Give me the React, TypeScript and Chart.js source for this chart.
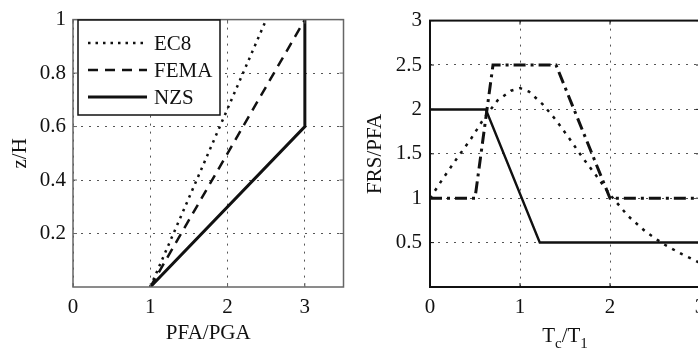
import React, { useEffect, useRef } from 'react';
import { Chart, registerables } from 'chart.js';
Chart.register(...registerables);

const FONT = "'Liberation Serif', 'Times New Roman', serif";
const INK = '#111';
Chart.defaults.font.family = FONT;
Chart.defaults.color = INK;

// ---- Left panel: PFA/PGA vs z/H ----
const ec8PfaX = [1, 2.5];
const ec8PfaZ = [0, 1];
const femaPfaX = [1, 3];
const femaPfaZ = [0, 1];
const nzsPfaX = [1, 3, 3];
const nzsPfaZ = [0, 0.6, 1];
const leftXTicks = [0, 1, 2, 3];
const leftYTicks = [0.2, 0.4, 0.6, 0.8, 1];
const leftLabels = ['EC8', 'FEMA', 'NZS'];

// ---- Right panel: Tc/T1 vs FRS/PFA ----
const nzsFrsT = [0, 0.62, 1.22, 3];
const nzsFrsY = [2, 2, 0.5, 0.5];
const femaFrsT = [0, 0.5, 0.7, 1.4, 2, 3];
const femaFrsY = [1, 1, 2.5, 2.5, 1, 1];
const ec8FrsT = [0, 0.15, 0.3, 0.45, 0.6, 0.75, 0.9, 1.0, 1.1, 1.25, 1.4, 1.55, 1.7, 1.85, 2.0, 2.2, 2.4, 2.6, 2.8, 3.0];
const ec8FrsY = [1, 1.23, 1.45, 1.66, 1.9, 2.1, 2.21, 2.24, 2.2, 2.06, 1.88, 1.67, 1.45, 1.25, 1.04, 0.8, 0.62, 0.48, 0.37, 0.27];
const rightXTicks = [0, 1, 2, 3];
const rightYTicks = [0.5, 1, 1.5, 2, 2.5, 3];

const pts = (xs: number[], ys: number[]) => xs.map((x, i) => ({ x, y: ys[i] }));
const fmt = (v: number) => String(Math.round(v * 10) / 10);

const framePlugin = {
  id: 'frame',
  afterDatasetsDraw(chart: any, _args: any, opts: any) {
    const { ctx, chartArea: a } = chart;
    const xs = chart.scales.x;
    const ys = chart.scales.y;
    ctx.save();
    ctx.strokeStyle = opts.color;
    ctx.lineWidth = opts.width;
    ctx.setLineDash([]);
    ctx.strokeRect(a.left, a.top, a.right - a.left, a.bottom - a.top);
    ctx.lineWidth = 1;
    ctx.beginPath();
    xs.ticks.forEach((t: any) => {
      const p = xs.getPixelForValue(t.value);
      ctx.moveTo(p, a.bottom); ctx.lineTo(p, a.bottom - 4);
      ctx.moveTo(p, a.top); ctx.lineTo(p, a.top + 4);
    });
    ys.ticks.forEach((t: any) => {
      const p = ys.getPixelForValue(t.value);
      ctx.moveTo(a.left, p); ctx.lineTo(a.left + 4, p);
      ctx.moveTo(a.right, p); ctx.lineTo(a.right - 4, p);
    });
    ctx.stroke();

    // axis titles
    ctx.fillStyle = INK;
    ctx.textBaseline = 'alphabetic';
    const big = `21px ${FONT}`;
    const small = `15px ${FONT}`;
    const segs: any[] = opts.xTitle;
    let total = 0;
    segs.forEach((s) => { ctx.font = s.sub ? small : big; total += ctx.measureText(s.text).width; });
    let cx = (a.left + a.right) / 2 - total / 2;
    segs.forEach((s) => {
      ctx.font = s.sub ? small : big;
      ctx.textAlign = 'left';
      ctx.fillText(s.text, cx, opts.xTitleY + (s.sub ? 6 : 0));
      cx += ctx.measureText(s.text).width;
    });
    ctx.save();
    ctx.translate(opts.yTitleX, (a.top + a.bottom) / 2);
    ctx.rotate(-Math.PI / 2);
    ctx.font = big;
    ctx.textAlign = 'center';
    ctx.textBaseline = 'middle';
    ctx.fillText(opts.yTitle, 0, 0);
    ctx.restore();
    ctx.restore();
  },
};

const legendPlugin = {
  id: 'boxLegend',
  afterDatasetsDraw(chart: any, _args: any, opts: any) {
    if (!opts || !opts.show) return;
    const { ctx } = chart;
    ctx.save();
    ctx.fillStyle = '#fff';
    ctx.fillRect(opts.x, opts.y, opts.w, opts.h);
    ctx.strokeStyle = INK;
    ctx.lineWidth = 1.5;
    ctx.setLineDash([]);
    ctx.strokeRect(opts.x, opts.y, opts.w, opts.h);
    chart.data.datasets.forEach((ds: any, i: number) => {
      const y = opts.y + 23 + i * 27;
      ctx.beginPath();
      ctx.strokeStyle = ds.borderColor;
      ctx.lineWidth = ds.borderWidth;
      ctx.setLineDash(ds.borderDash || []);
      ctx.moveTo(opts.x + 10, y);
      ctx.lineTo(opts.x + 69, y);
      ctx.stroke();
      ctx.setLineDash([]);
      ctx.fillStyle = INK;
      ctx.font = `21px ${FONT}`;
      ctx.textAlign = 'left';
      ctx.textBaseline = 'middle';
      ctx.fillText(ds.label, opts.x + 76, y + 1);
    });
    ctx.restore();
  },
};

function makeScale(min: number, max: number, ticks: number[], isX: boolean, size: number, pad: number) {
  return {
    type: 'linear',
    min,
    max,
    afterBuildTicks: (s: any) => { s.ticks = ticks.map((v) => ({ value: v })); },
    afterFit: (s: any) => { if (isX) s.height = size; else s.width = size; },
    ticks: {
      color: INK,
      font: { family: FONT, size: 21, weight: 'normal' },
      padding: pad,
      callback: (v: any) => fmt(Number(v)),
      maxRotation: 0,
      autoSkip: false,
    },
    grid: { color: '#555', lineWidth: 1, drawTicks: false },
    border: { display: false, dash: [2, 6] },
  };
}

function PanelChart(props: { cfg: any; width: number; left: number }) {
  const ref = useRef<HTMLCanvasElement>(null);
  useEffect(() => {
    const c = new Chart(ref.current as HTMLCanvasElement, props.cfg);
    return () => c.destroy();
  }, []);
  return (
    <canvas
      ref={ref}
      width={props.width}
      height={349}
      style={{ position: 'absolute', left: props.left, top: 0, width: props.width, height: 349 }}
    />
  );
}

const line = (label: string, data: any[], dash: number[], width: number) => ({
  label,
  data,
  showLine: true,
  borderColor: INK,
  backgroundColor: INK,
  borderWidth: width,
  borderDash: dash,
  pointRadius: 0,
  fill: false,
  tension: 0,
});

export default function App() {
  const leftCfg = {
    type: 'scatter',
    data: {
      datasets: [
        line(leftLabels[0], pts(ec8PfaX, ec8PfaZ), [2.5, 5], 2.5),
        line(leftLabels[1], pts(femaPfaX, femaPfaZ), [10, 7], 2.5),
        line(leftLabels[2], pts(nzsPfaX, nzsPfaZ), [], 3),
      ],
    },
    options: {
      responsive: false,
      animation: false,
      devicePixelRatio: 1,
      layout: { padding: { top: 15, right: 5.5, left: 0, bottom: 0 } },
      scales: {
        x: makeScale(0, 3.5, leftXTicks, true, 62, 8),
        y: makeScale(0, 1, leftYTicks, false, 73, 7),
      },
      plugins: {
        legend: { display: false },
        tooltip: { enabled: false },
        frame: { color: '#666', width: 1.5, xTitle: [{ text: 'PFA/PGA' }], xTitleY: 339, yTitle: 'z/H', yTitleX: 20 },
        boxLegend: { show: true, x: 78, y: 20, w: 142, h: 95 },
      },
    },
    plugins: [framePlugin, legendPlugin],
  };

  const rightCfg = {
    type: 'scatter',
    data: {
      datasets: [
        line('EC8', pts(ec8FrsT, ec8FrsY), [3, 6], 2.5),
        line('FEMA', pts(femaFrsT, femaFrsY), [12, 5, 3, 5], 3),
        line('NZS', pts(nzsFrsT, nzsFrsY), [], 2.5),
      ],
    },
    options: {
      responsive: false,
      animation: false,
      devicePixelRatio: 1,
      layout: { padding: { top: 15, right: 19, left: 0, bottom: 0 } },
      scales: {
        x: makeScale(0, 3, rightXTicks, true, 62, 8),
        y: makeScale(0, 3, rightYTicks, false, 81, 8),
      },
      plugins: {
        legend: { display: false },
        tooltip: { enabled: false },
        frame: {
          color: INK,
          width: 2,
          xTitle: [{ text: 'T' }, { text: 'c', sub: true }, { text: '/T' }, { text: '1', sub: true }],
          xTitleY: 342,
          yTitle: 'FRS/PFA',
          yTitleX: 26,
        },
        boxLegend: { show: false },
      },
    },
    plugins: [framePlugin, legendPlugin],
  };

  return (
    <div style={{ position: 'fixed', left: 0, top: 0, width: 698, height: 349, overflow: 'hidden', background: '#fff' }}>
      <PanelChart cfg={leftCfg} width={349} left={0} />
      <PanelChart cfg={rightCfg} width={370} left={349} />
    </div>
  );
}
